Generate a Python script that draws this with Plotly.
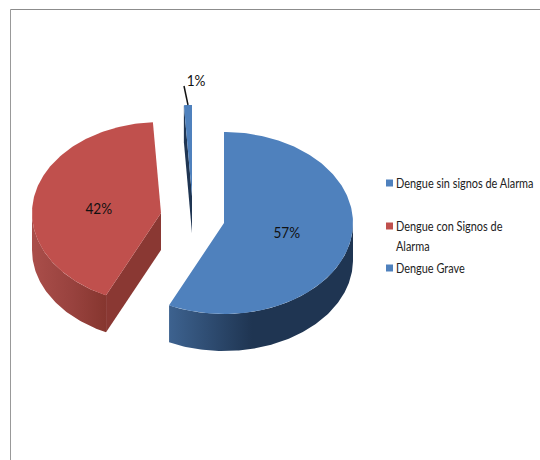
import numpy as np
import plotly.graph_objects as go

categories = ["Dengue sin signos de Alarma", "Dengue con Signos de<br>Alarma", "Dengue Grave"]
percentages = [57, 42, 1]
top_colors = ["#4f81bd", "#c0504d", "#4f81bd"]
wall_colors = [
    [[0, "#3d628f"], [0.45, "#1f3552"], [1, "#1f3552"]],
    [[0, "#aa4e4a"], [0.55, "#98423e"], [1, "#86362f"]],
    [[0, "#1f3552"], [1, "#1f3552"]],
]
face_colors = ["#1f3552", "#8a3833", "#1f3552"]

# Projection of the tilted, exploded pie (pixels on the figure)
RX, RY, DEPTH = 129, 91, 37
apexes = [(224, 223), (161, 213), (192, 196)]
FONT = "Lato"


def rim(a0, a1, cx, cy, dy=0):
    t = np.radians(np.linspace(a0, a1, max(2, int(abs(a1 - a0)) + 2)))
    return cx + RX * np.sin(t), cy - RY * np.cos(t) + dy


fig = go.Figure()


def poly(x, y, color=None, gradient=None):
    kw = dict(fillgradient=dict(type="horizontal", colorscale=gradient)) if gradient else dict(fillcolor=color)
    fig.add_trace(go.Scatter(x=list(x) + [x[0]], y=list(y) + [y[0]], mode="lines", fill="toself",
                             line=dict(width=0), hoverinfo="skip", showlegend=False, **kw))


angles = np.cumsum([0] + percentages) * 3.6
order = [2, 1, 0]  # back to front
for i in order:
    a0, a1 = angles[i], angles[i + 1]
    cx, cy = apexes[i]
    w0, w1 = max(a0, 90), min(a1, 270)
    if w1 > w0:
        xt, yt = rim(w0, w1, cx, cy)
        xb, yb = rim(w0, w1, cx, cy, DEPTH)
        poly(np.r_[xt, xb[::-1]], np.r_[yt, yb[::-1]], gradient=wall_colors[i])
    if np.sin(np.radians(a0)) < -1e-6:
        xr, yr = rim(a0, a0, cx, cy)
        poly([cx, xr[0], xr[0], cx], [cy, yr[0], yr[0] + DEPTH, cy + DEPTH], color=face_colors[i])
    if np.sin(np.radians(a1)) > 1e-6:
        xr, yr = rim(a1, a1, cx, cy)
        poly([cx, xr[0], xr[0], cx], [cy, yr[0], yr[0] + DEPTH, cy + DEPTH], color=face_colors[i])
    xt, yt = rim(a0, a1, cx, cy)
    poly(np.r_[cx, xt], np.r_[cy, yt], color=top_colors[i])

# legend drawn as keys + labels
legend_y = [183, 226, 268]
LEGEND_X, LINE = 396, 20
fig.add_trace(go.Scatter(x=[389.5] * 3, y=legend_y, mode="markers", hoverinfo="skip", showlegend=False,
                         marker=dict(symbol="square", size=7, color=top_colors, line=dict(width=0))))
for name, y in zip(categories, legend_y):
    for k, part in enumerate(name.split("<br>")):
        fig.add_annotation(x=LEGEND_X, y=y + k * LINE - 1, text=part, showarrow=False, xanchor="left", yanchor="middle",
                           xshift=-2, font=dict(family=FONT, size=14, color="#222222"))

label_pos = [(287, 232), (99, 208), (196, 80)]
for p, (x, y) in zip(percentages, label_pos):
    fig.add_annotation(x=x, y=y - 1, text=f"{p}%", showarrow=False, font=dict(family=FONT, size=16, color="#111111"))

fig.update_layout(
    width=540, height=460, margin=dict(l=0, r=0, t=0, b=0),
    paper_bgcolor="white", plot_bgcolor="white", showlegend=False,
    font=dict(family=FONT, size=14, color="#222222"),
    xaxis=dict(range=[0, 540], visible=False, fixedrange=True),
    yaxis=dict(range=[460, 0], visible=False, fixedrange=True),
    shapes=[
        dict(type="line", x0=184, y0=86, x1=188, y1=105, line=dict(color="#111111", width=1.5)),
        dict(type="line", x0=10.5, y0=9.5, x1=10.5, y1=460, line=dict(color="#999999", width=1)),
        dict(type="line", x0=10.5, y0=9.5, x1=540, y1=9.5, line=dict(color="#8c8c8c", width=1)),
    ],
)
condense = """
document.body.style.margin='0';document.body.style.overflow='hidden';
document.querySelectorAll('.annotation-text').forEach(function(t){
  var pct=t.textContent.trim().endsWith('%');
  t.style.transformBox='fill-box';
  t.style.transformOrigin=pct?'center center':'left center';
  t.style.transform='scaleX('+(pct?0.85:0.78)+')';
});
"""
fig.write_html("out.html", config={"displayModeBar": False}, post_script=condense)
